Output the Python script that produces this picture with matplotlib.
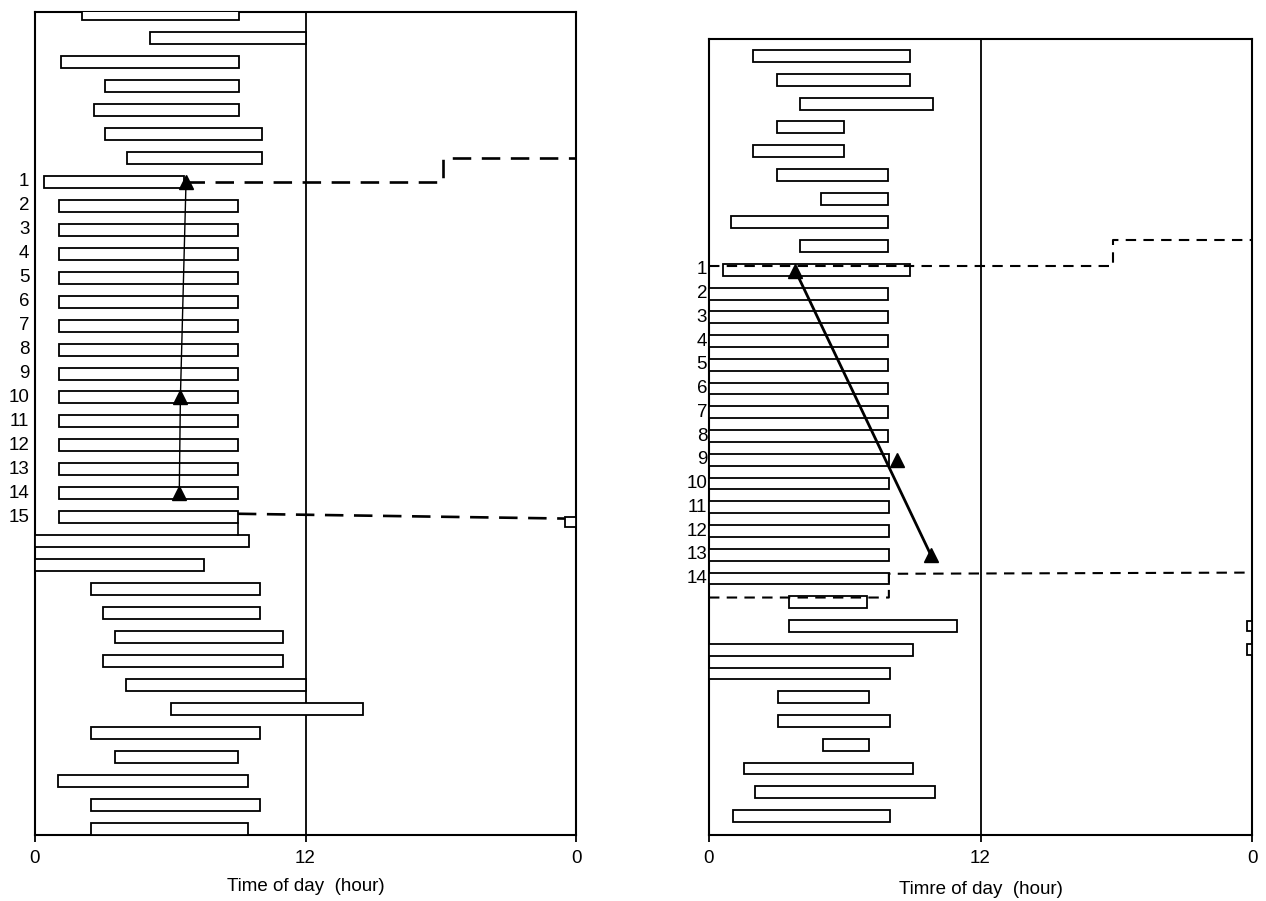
import matplotlib
matplotlib.use("Agg")
import matplotlib.pyplot as plt

plt.rcParams['font.family'] = ['Liberation Sans', 'DejaVu Sans']

# ---------------- data (hours, 0-24) ----------------
# Left panel: one bar per row (row 0 at top)
left_start = [2.1, 5.1, 1.15, 3.1, 2.6, 3.1, 4.1, 0.4,
              1.05, 1.05, 1.05, 1.05, 1.05, 1.05, 1.05, 1.05, 1.05, 1.05, 1.05, 1.05, 1.05, 1.05,
              0.0, 0.0, 2.5, 3.0, 3.55, 3.0, 4.05, 6.05, 2.5, 3.55, 1.0, 2.5, 2.5]
left_end = [9.05, 12.0, 9.05, 9.05, 9.05, 10.05, 10.05, 6.6,
            9.0, 9.0, 9.0, 9.0, 9.0, 9.0, 9.0, 9.0, 9.0, 9.0, 9.0, 9.0, 9.0, 9.0,
            9.5, 7.5, 10.0, 10.0, 11.0, 11.0, 12.0, 14.55, 10.0, 9.0, 9.45, 10.0, 9.45]
left_day_labels = [str(d) for d in range(1, 16)]
left_day_rows = list(range(7, 22))
left_tri_x = [6.7, 6.45, 6.4]
left_tri_row = [7, 16, 20]
left_dash1_x = [6.7, 18.1, 18.1, 24.0]
left_dash1_row = [7.0, 7.0, 6.0, 6.0]
left_dash2_x = [9.0, 23.5]
left_dash2_row = [20.85, 21.05]
left_small_start = [23.5]
left_small_end = [24.0]
left_small_row = [21.2]

# Right panel
right_start = [1.95, 3.0, 4.0, 3.0, 1.95, 3.0, 4.95, 0.97, 4.0, 0.6,
               0.0, 0.0, 0.0, 0.0, 0.0, 0.0, 0.0, 0.0, 0.0, 0.0, 0.0, 0.0, 0.0,
               3.55, 3.55, 0.0, 0.0, 3.05, 3.05, 5.05, 1.55, 2.05, 1.05]
right_end = [8.9, 8.9, 9.9, 5.95, 5.95, 7.9, 7.9, 7.9, 7.9, 8.9,
             7.9, 7.9, 7.9, 7.9, 7.9, 7.9, 7.9, 7.95, 7.95, 7.95, 7.95, 7.95, 7.95,
             7.0, 10.95, 9.0, 8.0, 7.05, 8.0, 7.05, 9.0, 10.0, 8.0]
right_day_labels = [str(d) for d in range(1, 15)]
right_day_rows = list(range(9, 23))
right_tri_x = [3.8, 8.3, 9.8]
right_tri_row = [9.05, 17.0, 21.0]
right_line_x = [3.8, 9.8]
right_line_row = [9.0, 21.0]
right_dash1_x = [0.0, 17.85, 17.85, 24.0]
right_dash1_row = [8.85, 8.85, 7.75, 7.75]
right_dash2_x = [0.0, 7.95, 7.95, 24.0]
right_dash2_row = [22.8, 22.8, 21.8, 21.75]
right_small_start = [23.8, 23.8]
right_small_end = [24.0, 24.0]
right_small_row = [24.0, 25.0]

xtick_pos = [0, 12, 24]
xtick_lab = ["0", "12", "0"]

# ---------------- figure ----------------
fig = plt.figure(figsize=(12.66, 9.01), dpi=100)
axL = fig.add_axes([35/1266, 1-835/901, (576-35)/1266, (835-12)/901])
axR = fig.add_axes([709/1266, 1-835/901, (1252-709)/1266, (835-39)/901])

def setup(ax, ylim, xlabel, labelpad):
    ax.set_xlim(0, 24)
    ax.set_ylim(*ylim)
    ax.set_yticks([])
    ax.set_xticks(xtick_pos)
    ax.set_xticklabels(xtick_lab, fontsize=13.5)
    ax.tick_params(axis='x', direction='out', length=5, width=1.3, pad=6)
    for s in ax.spines.values():
        s.set_linewidth(1.5)
    ax.axvline(12, color='black', lw=1.3)
    ax.set_xlabel(xlabel, fontsize=13.5, labelpad=labelpad)

def bars(ax, rows, starts, ends, h=0.5):
    widths = [e - s for s, e in zip(starts, ends)]
    ax.barh(rows, widths, left=starts, height=h, color='white',
            edgecolor='black', linewidth=1.3, zorder=3)

# Left
setup(axL, (34.25, -0.08), "Time of day  (hour)", 8)
bars(axL, list(range(len(left_start))), left_start, left_end)
bars(axL, left_small_row, left_small_start, left_small_end, h=0.4)
axL.plot(left_dash1_x, left_dash1_row, ls=(0, (7, 4)), color='black', lw=1.9, zorder=4)
axL.plot(left_dash2_x, left_dash2_row, ls=(0, (7, 4)), color='black', lw=1.9, zorder=4)
axL.plot([left_end[21], left_end[21]], [21.25, 21.75], color='black', lw=1.2, zorder=4)
axL.plot(left_tri_x, left_tri_row, color='black', lw=1.0, zorder=4)
axL.plot(left_tri_x, left_tri_row, ls='none', marker='^', ms=10, color='black', zorder=5)
for lab, r in zip(left_day_labels, left_day_rows):
    axL.text(-0.25, r, lab, ha='right', va='center', fontsize=13.5)

# Right
setup(axR, (32.8, -0.72), "Timre of day  (hour)", 10)
bars(axR, list(range(len(right_start))), right_start, right_end)
bars(axR, right_small_row, right_small_start, right_small_end, h=0.45)
axR.plot(right_dash1_x, right_dash1_row, ls=(0, (5, 3.5)), color='black', lw=1.5, zorder=4)
axR.plot(right_dash2_x, right_dash2_row, ls=(0, (5, 3.5)), color='black', lw=1.5, zorder=4)
axR.plot(right_line_x, right_line_row, color='black', lw=2.0, zorder=4)
axR.plot(right_tri_x, right_tri_row, ls='none', marker='^', ms=10, color='black', zorder=5)
for lab, r in zip(right_day_labels, right_day_rows):
    axR.text(-0.08, r, lab, ha='right', va='center', fontsize=13.5)

fig.savefig("out.png", dpi=100)
